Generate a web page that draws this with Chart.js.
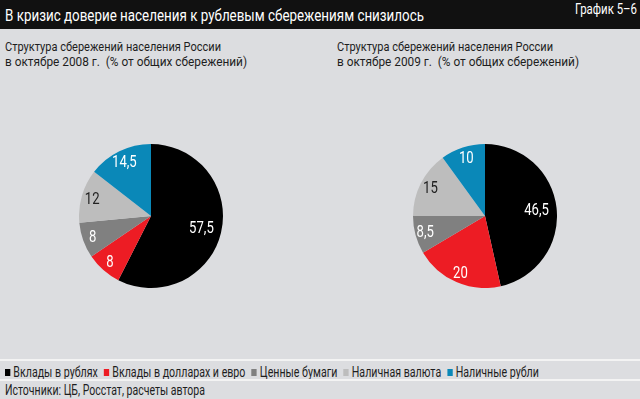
<!DOCTYPE html>
<html>
<head>
<meta charset="utf-8">
<script src="https://cdn.jsdelivr.net/npm/chart.js@4/dist/chart.umd.min.js"></script>
<style>
  body { margin: 0; width: 640px; height: 399px; background: #dcdde0; overflow: hidden;
         font-family: Roboto, "Liberation Sans", sans-serif; position: relative; }
  .abs { position: absolute; white-space: nowrap; }
  #bar { left: 0; top: 0; width: 640px; height: 29px; background: #111111; }
  #title { left: 5px; top: 7px; color: #fff; font-size: 17px; line-height: 17px; }
  #tag { left: 575px; top: 2px; color: #fff; font-size: 14px; line-height: 14px; }
  .sub { font-size: 13px; line-height: 13px; color: #1e1e1e; }
  .rule { left: 0; width: 640px; height: 2px; background: #f3f3f3; }
  #legend { left: 5px; top: 365px; font-size: 14px; line-height: 14px; color: #1e1e1e; display: flex; }
  #legend span.item { margin-right: 8px; display: flex; align-items: center; }
  #legend i { display: inline-block; width: 7px; height: 7px; margin-right: 4px; }
  #source { left: 5px; top: 383px; font-size: 14px; line-height: 14px; color: #1e1e1e; }
  .fit { transform-origin: 0 0; }
</style>
</head>
<body>
<div class="abs" id="bar"></div>
<div class="abs fit" id="title" data-w="419">В кризис доверие населения к рублевым сбережениям снизилось</div>
<div class="abs fit" id="tag" data-w="62">График 5–6</div>
<div class="abs sub fit" style="left:5px;top:40px" data-w="216">Структура сбережений населения России</div>
<div class="abs sub fit" style="left:5px;top:55px" data-w="242">в октябре 2008 г.&nbsp;&nbsp;(% от общих сбережений)</div>
<div class="abs sub fit" style="left:337px;top:40px" data-w="216">Структура сбережений населения России</div>
<div class="abs sub fit" style="left:337px;top:55px" data-w="242">в октябре 2009 г.&nbsp;&nbsp;(% от общих сбережений)</div>
<div style="position:absolute;left:79px;top:144px;width:144px;height:144px"><canvas id="pie2008"></canvas></div>
<div style="position:absolute;left:413px;top:144px;width:144px;height:144px"><canvas id="pie2009"></canvas></div>
<div class="abs rule" style="top:359px"></div>
<div class="abs fit" id="legend" data-w="540"></div>
<div class="abs rule" style="top:379px"></div>
<div class="abs fit" id="source" data-w="200">Источники: ЦБ, Росстат, расчеты автора</div>
<script>
const categories = ['Вклады в рублях', 'Вклады в долларах и евро', 'Ценные бумаги', 'Наличная валюта', 'Наличные рубли'];
const values2008 = [57.5, 8, 8, 12, 14.5];
const values2009 = [46.5, 20, 8.5, 15, 10];

const colors = ['#000000', '#ed1c24', '#808080', '#bdbdbd', '#0a88b8'];
const labelColors = ['#fff', '#fff', '#fff', '#222', '#fff'];
const labelRadius = [0.72, 0.86, 0.86, 0.85, 0.84];

// numbers written inside the slices (condensed by a horizontal scale)
const sliceLabels = {
  id: 'sliceLabels',
  afterDatasetsDraw(chart) {
    const ctx = chart.ctx;
    const meta = chart.getDatasetMeta(0);
    meta.data.forEach((arc, i) => {
      const p = arc.getProps(['x', 'y', 'startAngle', 'endAngle', 'outerRadius'], true);
      const a = (p.startAngle + p.endAngle) / 2;
      const r = p.outerRadius * labelRadius[i];
      const txt = String(chart.data.datasets[0].data[i]).replace('.', ',');
      ctx.save();
      ctx.translate(p.x + Math.cos(a) * r, p.y + Math.sin(a) * r);
      ctx.scale(0.82, 1);
      ctx.font = '16px Roboto, sans-serif';
      ctx.textAlign = 'center';
      ctx.textBaseline = 'middle';
      ctx.fillStyle = labelColors[i];
      ctx.fillText(txt, 0, 1);
      ctx.restore();
    });
  }
};

function createPie(id, data) {
  new Chart(document.getElementById(id), {
    type: 'pie',
    data: {
      labels: categories,
      datasets: [{ data: data, backgroundColor: colors, borderWidth: 0 }]
    },
    options: {
      responsive: true,
      maintainAspectRatio: false,
      animation: false,
      layout: { padding: 0 },
      plugins: { legend: { display: false }, tooltip: { enabled: false } }
    },
    plugins: [sliceLabels]
  });
}

createPie('pie2008', values2008);
createPie('pie2009', values2009);

// legend row
const legend = document.getElementById('legend');
categories.forEach((name, i) => {
  const item = document.createElement('span');
  item.className = 'item';
  item.innerHTML = '<i style="background:' + colors[i] + '"></i>' + name;
  legend.appendChild(item);
});

// squeeze texts to the condensed widths of the original
document.querySelectorAll('.fit').forEach(el => {
  const w = el.getBoundingClientRect().width;
  el.style.transform = 'scaleX(' + (el.dataset.w / w) + ')';
});
</script>
</body>
</html>
